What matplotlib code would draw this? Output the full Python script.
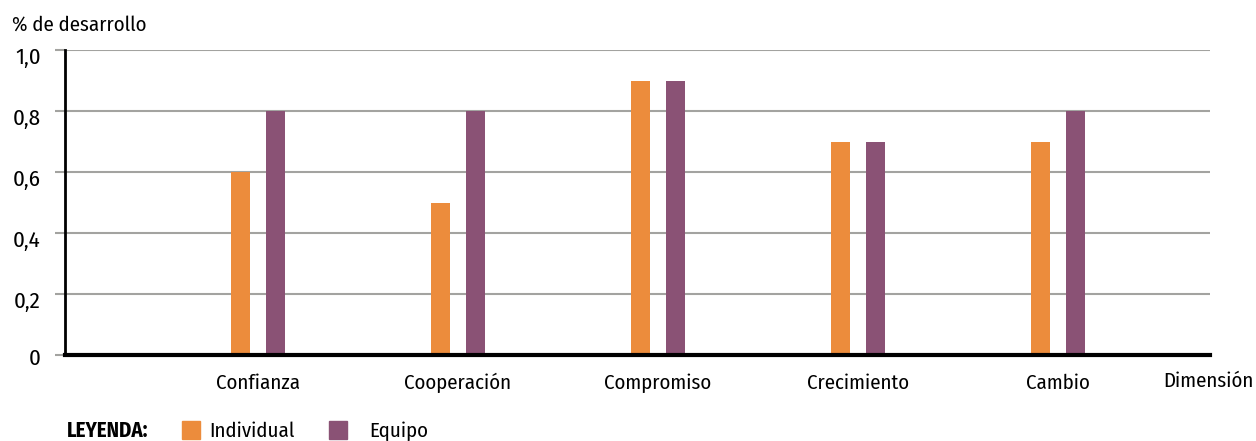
import matplotlib
matplotlib.use("Agg")
import matplotlib.pyplot as plt
import matplotlib.transforms as mtransforms
import numpy as np
from matplotlib.patches import Rectangle

categories = ["Confianza", "Cooperación", "Compromiso", "Crecimiento", "Cambio"]
individual = [0.6, 0.5, 0.9, 0.7, 0.7]
equipo = [0.8, 0.8, 0.9, 0.7, 0.8]
yticks = [0, 0.2, 0.4, 0.6, 0.8, 1.0]
ytick_labels = ["0", "0,2", "0,4", "0,6", "0,8", "1,0"]

ORANGE = "#EC8C3C"
PURPLE = "#8A5275"
GRID = "#A3A3A0"
FS = 15

plt.rcParams["font.family"] = ["Fira Sans Condensed", "DejaVu Sans"]

W, H = 1256, 441
fig = plt.figure(figsize=(W / 100, H / 100), dpi=100)
ax = fig.add_axes([65 / W, 1 - 355 / H, (1210 - 65) / W, (355 - 50) / H])

x = np.arange(len(categories))
bw = 0.095
off = 0.0875
ax.bar(x - off, individual, bw, color=ORANGE, zorder=3)
ax.bar(x + off, equipo, bw, color=PURPLE, zorder=3)

ax.set_xlim(-0.965, 4.76)
ax.set_ylim(0, 1.0)
ax.set_yticks(yticks)
ax.set_yticklabels(ytick_labels, fontsize=16.5)
ax.yaxis.grid(True, color=GRID, linewidth=1.5, zorder=0)
ax.tick_params(axis="y", length=7, width=1.5, color=GRID, pad=10.5)
ax.set_xticks(x)
ax.set_xticklabels(categories, fontsize=FS)
ax.tick_params(axis="x", length=0, pad=13)

# y labels sit a little below their gridlines
for val, lab in zip(yticks, ax.get_yticklabels()):
    dy = -2 if val == 0 else -6
    lab.set_transform(lab.get_transform() +
                      mtransforms.ScaledTranslation(0, dy / 100, fig.dpi_scale_trans))

for s in ["top", "right"]:
    ax.spines[s].set_visible(False)
ax.spines["left"].set_linewidth(2)
ax.spines["bottom"].set_linewidth(3)
ax.spines["left"].set_zorder(4)
ax.spines["bottom"].set_zorder(4)

fig.text(12 / W, 1 - 25 / H, "% de desarrollo", fontsize=FS, va="center", ha="left")
fig.text(1163 / W, 1 - 381 / H, "Dimensión", fontsize=FS, va="center", ha="left")

# legend
ly = 1 - 431 / H
fig.text(67 / W, ly, "LEYENDA:", fontsize=FS, fontweight="bold", va="center", ha="left")
fig.patches.append(Rectangle((182 / W, 1 - 439 / H), 18 / W, 18 / H,
                             transform=fig.transFigure, color=ORANGE))
fig.text(209 / W, ly, "Individual", fontsize=FS, va="center", ha="left")
fig.patches.append(Rectangle((329 / W, 1 - 439 / H), 18 / W, 18 / H,
                             transform=fig.transFigure, color=PURPLE))
fig.text(369 / W, ly, "Equipo", fontsize=FS, va="center", ha="left")

fig.savefig("out.png", dpi=100)
